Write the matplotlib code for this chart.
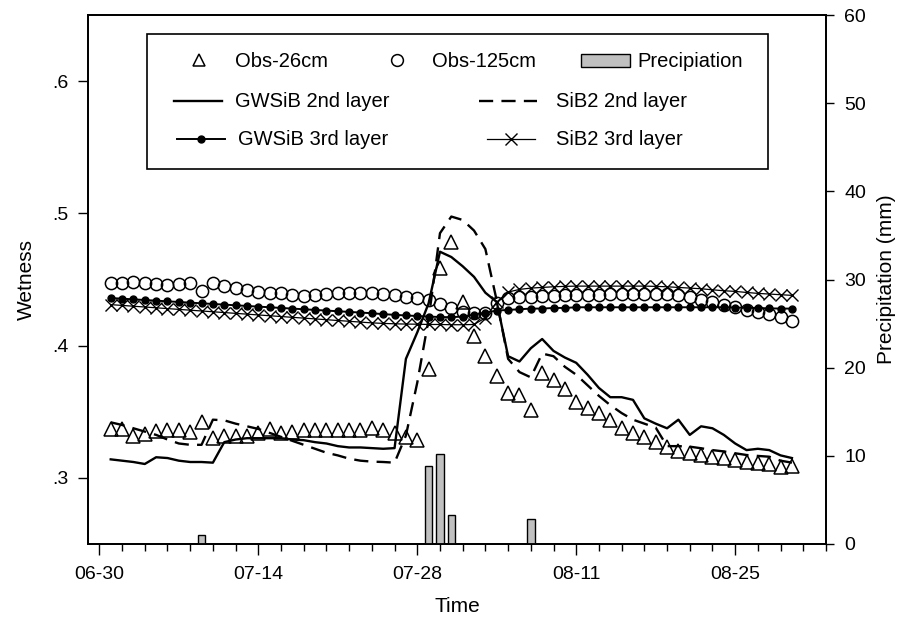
import matplotlib
matplotlib.use('Agg')
import matplotlib.pyplot as plt
import pandas as pd
from matplotlib.lines import Line2D
from matplotlib.patches import Rectangle

plt.rcParams['font.family'] = ['Liberation Sans', 'DejaVu Sans']

# daily series, 07-01 .. 08-30
dates = pd.date_range('2008-07-01', '2008-08-30', freq='D')

obs_26 = [0.337, 0.337, 0.332, 0.333, 0.3355, 0.336, 0.336, 0.335, 0.342, 0.330,
          0.332, 0.332, 0.332, 0.334, 0.337, 0.334, 0.335, 0.336, 0.336, 0.336,
          0.336, 0.336, 0.336, 0.3375, 0.336, 0.334, 0.331, 0.329, 0.382, 0.459,
          0.478, 0.433, 0.407, 0.392, 0.377, 0.364, 0.363, 0.351, 0.379, 0.374,
          0.367, 0.357, 0.353, 0.349, 0.344, 0.338, 0.334, 0.331, 0.327, 0.323,
          0.320, 0.3186, 0.3173, 0.316, 0.315, 0.3135, 0.312, 0.3115, 0.3105, 0.3085, 0.309]

obs_125 = [0.4477, 0.4477, 0.4482, 0.4472, 0.4467, 0.446, 0.4467, 0.4472, 0.4416, 0.4472,
           0.4452, 0.4436, 0.4421, 0.4408, 0.4396, 0.4396, 0.438, 0.4376, 0.438, 0.4389,
           0.4396, 0.4396, 0.4396, 0.4398, 0.4389, 0.4383, 0.437, 0.4358, 0.4346, 0.4315,
           0.4283, 0.4257, 0.4245, 0.425, 0.432, 0.4358, 0.437, 0.437, 0.4375, 0.4378,
           0.438, 0.438, 0.4382, 0.4385, 0.4388, 0.439, 0.439, 0.439, 0.439, 0.439,
           0.4385, 0.437, 0.4346, 0.4328, 0.4308, 0.429, 0.427, 0.4255, 0.4242, 0.4214, 0.4189]

gwsib_2nd = [0.314, 0.313, 0.312, 0.3105, 0.3156, 0.315, 0.313, 0.312, 0.312, 0.3115,
             0.327, 0.329, 0.330, 0.330, 0.330, 0.330, 0.329, 0.3285, 0.327, 0.326,
             0.324, 0.323, 0.323, 0.3225, 0.322, 0.3225, 0.390, 0.410, 0.432, 0.471,
             0.467, 0.460, 0.452, 0.440, 0.433, 0.392, 0.388, 0.398, 0.405, 0.396,
             0.391, 0.387, 0.378, 0.368, 0.361, 0.361, 0.359, 0.345, 0.341, 0.3375,
             0.344, 0.3325, 0.339, 0.3375, 0.3325, 0.326, 0.321, 0.322, 0.321, 0.317, 0.315]

sib2_2nd = [0.342, 0.340, 0.3375, 0.335, 0.3325, 0.329, 0.326, 0.325, 0.325, 0.344,
            0.3435, 0.341, 0.339, 0.337, 0.334, 0.331, 0.328, 0.325, 0.322, 0.319,
            0.317, 0.3145, 0.313, 0.3123, 0.312, 0.3115, 0.332, 0.372, 0.420, 0.485,
            0.4976, 0.495, 0.487, 0.473, 0.434, 0.390, 0.380, 0.376, 0.394, 0.392,
            0.384, 0.378, 0.370, 0.362, 0.355, 0.349, 0.344, 0.341, 0.338, 0.324,
            0.324, 0.3236, 0.3224, 0.321, 0.320, 0.3186, 0.3173, 0.3166, 0.316, 0.313, 0.3115]

gwsib_3rd = [0.436, 0.4355, 0.435, 0.4345, 0.434, 0.4335, 0.433, 0.4325, 0.432, 0.4315,
             0.431, 0.4305, 0.430, 0.4295, 0.429, 0.4285, 0.428, 0.4275, 0.427, 0.4265,
             0.426, 0.4255, 0.425, 0.4245, 0.4238, 0.4233, 0.4228, 0.4224, 0.422, 0.4216,
             0.4215, 0.422, 0.4235, 0.425, 0.4265, 0.427, 0.4275, 0.428, 0.428, 0.4285,
             0.4285, 0.429, 0.429, 0.429, 0.429, 0.429, 0.429, 0.429, 0.429, 0.429,
             0.429, 0.429, 0.429, 0.429, 0.429, 0.4288, 0.4286, 0.4284, 0.4282, 0.428, 0.428]

sib2_3rd = [0.431, 0.4304, 0.4298, 0.4292, 0.4286, 0.428, 0.4274, 0.4268, 0.4262, 0.4256,
            0.425, 0.4244, 0.4238, 0.4232, 0.4226, 0.422, 0.4214, 0.4208, 0.4202, 0.4196,
            0.419, 0.4184, 0.4178, 0.4172, 0.4168, 0.4165, 0.4163, 0.4162, 0.416, 0.416,
            0.4158, 0.4158, 0.416, 0.421, 0.433, 0.4405, 0.4425, 0.4435, 0.444, 0.4445,
            0.4448, 0.445, 0.445, 0.445, 0.445, 0.445, 0.445, 0.445, 0.4448, 0.4445,
            0.444, 0.4435, 0.443, 0.4422, 0.4415, 0.441, 0.4402, 0.4395, 0.439, 0.4385, 0.438]

precip_dates = pd.to_datetime(['2008-07-09', '2008-07-29', '2008-07-30', '2008-07-31', '2008-08-07'])
precip_mm = [1.0, 8.8, 10.2, 3.3, 2.8]

xtick_dates = pd.to_datetime(['2008-06-30', '2008-07-14', '2008-07-28', '2008-08-11', '2008-08-25'])
xtick_labels = ['06-30', '07-14', '07-28', '08-11', '08-25']
ytick_vals = [0.3, 0.4, 0.5, 0.6]
ytick_labels = ['.3', '.4', '.5', '.6']

W, H = 913, 629


def fx(x):
    return x / W


def fy(y):
    return 1 - y / H


fig = plt.figure(figsize=(W / 100, H / 100), dpi=100)
ax = fig.add_axes([fx(88), fy(544), (826 - 88) / W, (544 - 15) / H])
ax2 = ax.twinx()

# precipitation bars on the right axis
ax2.bar(precip_dates, precip_mm, width=0.66, color='#c0c0c0', edgecolor='black', linewidth=1.0)
ax2.set_ylim(0, 60)
ax2.set_yticks([0, 10, 20, 30, 40, 50, 60])

# model layers
ax.plot(dates, gwsib_2nd, color='black', lw=1.7)
ax.plot(dates, sib2_2nd, color='black', lw=1.7, ls=(0, (6, 3.5)))
ax.plot(dates, gwsib_3rd, color='black', lw=1.4, marker='o', ms=5)
ax.plot(dates, sib2_3rd, color='black', lw=0.9, marker='x', ms=8, mew=1)

# observations
ax.plot(dates, obs_26, ls='none', marker='^', ms=9.5, mfc='none', mec='black', mew=1.1)
ax.plot(dates, obs_125, ls='none', marker='o', ms=8.8, mfc='none', mec='black', mew=1.1)

ax.set_xlim(pd.Timestamp('2008-06-29'), pd.Timestamp('2008-09-02'))
ax.set_ylim(0.25, 0.65)
ax.set_xticks(xtick_dates)
ax.set_xticklabels(xtick_labels)
ax.set_xticks(pd.date_range('2008-06-30', '2008-09-02', freq='2D'), minor=True)
ax.set_yticks(ytick_vals)
ax.set_yticklabels(ytick_labels)

ax.tick_params(axis='x', which='major', direction='out', length=8, width=1, pad=8, labelsize=14)
ax.tick_params(axis='x', which='minor', direction='out', length=5, width=1)
ax.tick_params(axis='y', direction='out', length=7, width=1, pad=7, labelsize=14)
ax2.tick_params(axis='y', direction='out', length=6, width=1, pad=7, labelsize=14)

for a in (ax, ax2):
    for s in a.spines.values():
        s.set_linewidth(1.3)

ax.set_xlabel('Time', fontsize=15, labelpad=10)
ax.set_ylabel('Wetness', fontsize=15, labelpad=12)
ax2.set_ylabel('Precipitation (mm)', fontsize=15, labelpad=8)

# legend drawn by hand: 3 entries on the first row, 2 on the others
fig.add_artist(Rectangle((fx(147), fy(169)), (768 - 147) / W, (169 - 34) / H,
                         transform=fig.transFigure, fill=False, edgecolor='black', lw=1.2))


def handle_line(x0, x1, y, **kw):
    fig.add_artist(Line2D([fx(x0), fx(x1)], [fy(y), fy(y)], transform=fig.transFigure,
                          color='black', **kw))


def handle_marker(x, y, **kw):
    fig.add_artist(Line2D([fx(x)], [fy(y)], transform=fig.transFigure, ls='none', **kw))


def label(x, y, s):
    fig.text(fx(x), fy(y), s, fontsize=14.5, ha='left', va='baseline')


handle_marker(199, 60, marker='^', ms=8.5, mfc='none', mec='black', mew=1.1)
label(235, 67, 'Obs-26cm')
handle_marker(397, 60, marker='o', ms=8.5, mfc='none', mec='black', mew=1.1)
label(432, 67, 'Obs-125cm')
fig.add_artist(Rectangle((fx(581), fy(67)), 49 / W, 13 / H, transform=fig.transFigure,
                         facecolor='#c0c0c0', edgecolor='black', lw=1.0))
label(637, 67, 'Precipiation')

handle_line(174, 222, 101, lw=1.7)
label(235, 107, 'GWSiB 2nd layer')
handle_line(479, 537, 101, lw=1.7, ls=(0, (6, 3.5)))
label(556, 107, 'SiB2 2nd layer')

handle_line(177, 225, 139, lw=1.4)
handle_marker(201, 139, marker='o', ms=5, color='black')
label(238, 145, 'GWSiB 3rd layer')
handle_line(487, 535, 139, lw=0.9)
handle_marker(511, 139, marker='x', ms=8, mew=1, color='black')
label(556, 145, 'SiB2 3rd layer')

fig.savefig('out.png', dpi=100)
